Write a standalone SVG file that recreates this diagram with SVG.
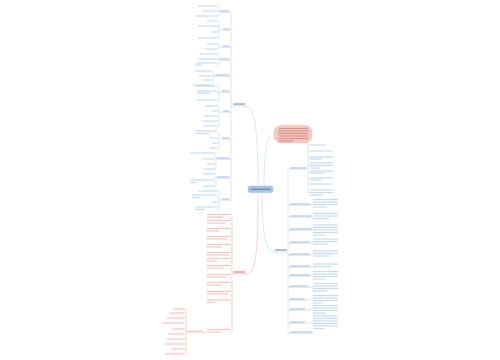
<svg xmlns="http://www.w3.org/2000/svg" width="500" height="360" viewBox="0 0 500 360">
<style>
.b{fill:#7ba7d8;opacity:.42}
.s{fill:#5f8fc4;opacity:.5}
.r{fill:#e57f7a;opacity:.45}
.k{fill:#a8423d;opacity:.4}
.d{fill:#3f5f86;opacity:.6}
.c{fill:none;stroke:#c9d5e3;stroke-width:.6}
.cr{fill:none;stroke:#f1b6b2;stroke-width:.6}
.ub{fill:none;stroke:#a9c3e0;stroke-width:.5}
.ur{fill:none;stroke:#efa5a0;stroke-width:.5}
</style>
<rect width="500" height="360" fill="#fff"/>
<g id="connectors">
<path class="c" d="M246,106 C256,106 258,140 258,186"/>
<path class="c" d="M274,134 C266,134 264,160 264,186"/>
<path class="c" d="M262,192.5 C262,232 266,252.2 274,252.2"/>
<path class="cr" d="M258,192.5 C258,250 256,274 247,274"/>
<path class="c" d="M231,12.2V200.2 M231,106H232"/>
<path class="c" d="M217,6H219 M217,11H219 M217,16H219 M219,6V16 M219,12.2H220"/>
<path class="c" d="M217,21H219 M217,26H219 M217,32H219 M217,38H219 M219,21V38 M219,30.2H223"/>
<path class="c" d="M217,44H219 M217,49H219 M219,44V49 M219,47.2H223"/>
<path class="c" d="M217,54H219 M217,59H219 M217,65H219 M219,54V65 M219,60.2H220"/>
<path class="c" d="M211,71H213 M211,76H213 M211,80H213 M211,85H213 M213,71V85 M213,76.2H215"/>
<path class="c" d="M217,86H219 M217,93H219 M217,100H219 M219,86V100 M219,92.2H222"/>
<path class="c" d="M217,106H219 M217,111H219 M217,116H219 M217,121H219 M217,126H219 M219,106V126 M219,112.2H223"/>
<path class="c" d="M217,133.5H219 M217,138H219 M217,143H219 M217,148H219 M219,133.5V148 M219,139.2H222"/>
<path class="c" d="M214,153H216 M214,159H216 M214,164H216 M214,169H216 M216,153V169 M216,159.2H217"/>
<path class="c" d="M214,174H216 M214,182.5H216 M214,186H216 M216,174V186 M216,178.2H217"/>
<path class="c" d="M217,191H219 M217,197.5H219 M217,202H219 M217,209.5H219 M219,191V209.5 M219,200.2H222"/>
<path class="c" d="M288,169.2V333.2"/>
<path class="c" d="M307,169.2H308 M308,145V192.5 M308,145H310 M308,151H310 M308,158H310 M308,165.5H310 M308,172H310 M308,179H310 M308,184H310 M308,192.5H310"/>
<path class="c" d="M311,205.2C312,205.2 312,203.2 313,203.2 M312,217.2H313 M311,243.2C312,243.2 312,241.5 313,241.5 M311,255.2C312,255.2 312,253.5 313,253.5 M311,267.2C312,267.2 312,265.2 313,265.2 M311,276.2C312,276.2 312,275.2 313,275.2 M309,287.2H313 M306,300.2C310,300.2 310,299.2 313,299.2 M306,310.2C310,310.2 310,309.2 313,309.2 M306,323.2C310,323.2 310,322.2 313,322.2"/>
<path class="cr" d="M232,218V333 M230.5,218H232 M230.5,224H232 M230.5,232H232 M230.5,240H232 M230.5,248H232 M230.5,256H232 M230.5,262H232 M230.5,269H232 M230.5,278H232 M230.5,286H232 M230.5,295H232 M230.5,303.5H232 M230.5,333H232"/>
<path class="cr" d="M203.5,332.5H206 M186,309V354 M186,332.2H187 M184,309H186 M184,313H186 M184,318H186 M184,323H186 M184,329H186 M184,334H186 M184,339H186 M184,344H186 M184,349H186 M184,354H186"/>
</g>
<g id="center">
<rect x="248" y="186" width="25" height="6.5" rx="2" fill="#aac5e3" stroke="#8fb0d6" stroke-width=".4"/>
<rect class="d" x="251" y="188.6" width="19" height="1.3"/>
</g>
<g id="note">
<rect x="274" y="125.5" width="38" height="17.5" rx="7" fill="#f6c9c5" stroke="#efb1ac" stroke-width=".4"/>
<rect class="k" x="279" y="127.9" width="29" height="1.2"/>
<rect class="k" x="278" y="130.4" width="31" height="1.2"/>
<rect class="k" x="278" y="132.9" width="30" height="1.2"/>
<rect class="k" x="279" y="135.4" width="29" height="1.2"/>
<rect class="k" x="278" y="137.9" width="30" height="1.2"/>
<rect class="k" x="279" y="140.4" width="15" height="1.2"/>
</g>
<g id="branch-left">
<rect class="d" x="233" y="103.4" width="12" height="1.3"/>
<path class="ub" d="M232,106H246"/>
</g>
<g id="left-1">
<rect class="s" x="220" y="10.4" width="9" height="1.2"/><path class="ub" d="M220,12.2H231"/>
<rect class="b" x="198" y="5.4" width="19" height="1.2"/>
<rect class="b" x="203" y="10.4" width="14" height="1.2"/>
<rect class="b" x="196" y="15.4" width="21" height="1.2"/>
</g>
<g id="left-2">
<rect class="s" x="223" y="28.4" width="6" height="1.2"/><path class="ub" d="M223,30.2H231"/>
<rect class="b" x="207" y="20.4" width="10" height="1.2"/>
<rect class="b" x="198" y="25.4" width="19" height="1.2"/>
<rect class="b" x="212" y="31.4" width="5" height="1.2"/>
<rect class="b" x="198" y="37.4" width="19" height="1.2"/>
</g>
<g id="left-3">
<rect class="s" x="223" y="45.4" width="6" height="1.2"/><path class="ub" d="M223,47.2H231"/>
<rect class="b" x="207" y="43.4" width="10" height="1.2"/>
<rect class="b" x="205" y="48.4" width="12" height="1.2"/>
</g>
<g id="left-4">
<rect class="s" x="220" y="58.4" width="9" height="1.2"/><path class="ub" d="M220,60.2H231"/>
<rect class="b" x="200" y="53.4" width="17" height="1.2"/>
<rect class="b" x="198" y="58.4" width="19" height="1.2"/>
<rect class="b" x="196" y="62.4" width="21" height="1.2"/>
<rect class="b" x="196" y="64.4" width="6" height="1.2"/>
</g>
<g id="left-5">
<rect class="s" x="215" y="74.4" width="14" height="1.2"/><path class="ub" d="M215,76.2H231"/>
<rect class="b" x="195" y="70.4" width="16" height="1.2"/>
<rect class="b" x="199" y="75.4" width="12" height="1.2"/>
<rect class="b" x="203" y="79.4" width="8" height="1.2"/>
<rect class="b" x="193" y="84.4" width="18" height="1.2"/>
</g>
<g id="left-6">
<rect class="s" x="222" y="90.4" width="7" height="1.2"/><path class="ub" d="M222,92.2H231"/>
<rect class="b" x="196" y="85.4" width="21" height="1.2"/>
<rect class="b" x="197" y="90.4" width="20" height="1.2"/>
<rect class="b" x="197" y="92.4" width="14" height="1.2"/>
<rect class="b" x="197" y="99.4" width="20" height="1.2"/>
</g>
<g id="left-7">
<rect class="s" x="223" y="110.4" width="6" height="1.2"/><path class="ub" d="M223,112.2H231"/>
<rect class="b" x="205" y="105.4" width="12" height="1.2"/>
<rect class="b" x="212" y="110.4" width="5" height="1.2"/>
<rect class="b" x="204" y="115.4" width="13" height="1.2"/>
<rect class="b" x="202" y="120.4" width="15" height="1.2"/>
<rect class="b" x="203" y="125.4" width="14" height="1.2"/>
</g>
<g id="left-8">
<rect class="s" x="222" y="137.4" width="7" height="1.2"/><path class="ub" d="M222,139.2H231"/>
<rect class="b" x="195" y="130.4" width="22" height="1.2"/>
<rect class="b" x="195" y="132.9" width="14" height="1.2"/>
<rect class="b" x="210" y="137.4" width="7" height="1.2"/>
<rect class="b" x="212" y="142.4" width="5" height="1.2"/>
<rect class="b" x="210" y="147.4" width="7" height="1.2"/>
</g>
<g id="left-9">
<rect class="s" x="217" y="157.4" width="12" height="1.2"/><path class="ub" d="M217,159.2H231"/>
<rect class="b" x="190" y="152.4" width="24" height="1.2"/>
<rect class="b" x="203" y="158.4" width="11" height="1.2"/>
<rect class="b" x="207" y="163.4" width="7" height="1.2"/>
<rect class="b" x="204" y="168.4" width="10" height="1.2"/>
</g>
<g id="left-10">
<rect class="s" x="217" y="176.4" width="12" height="1.2"/><path class="ub" d="M217,178.2H231"/>
<rect class="b" x="203" y="173.4" width="11" height="1.2"/>
<rect class="b" x="190" y="179.4" width="24" height="1.2"/>
<rect class="b" x="190" y="181.9" width="6" height="1.2"/>
<rect class="b" x="203" y="185.4" width="11" height="1.2"/>
</g>
<g id="left-11">
<rect class="s" x="222" y="198.4" width="7" height="1.2"/><path class="ub" d="M222,200.2H231"/>
<rect class="b" x="198" y="190.4" width="19" height="1.2"/>
<rect class="b" x="192" y="194.4" width="25" height="1.2"/>
<rect class="b" x="192" y="196.9" width="8" height="1.2"/>
<rect class="b" x="212" y="201.4" width="5" height="1.2"/>
<rect class="b" x="195" y="206.4" width="22" height="1.2"/>
<rect class="b" x="195" y="208.9" width="10" height="1.2"/>
</g>
<g id="branch-right">
<rect class="d" x="275" y="249.4" width="12" height="1.3"/>
<path class="ub" d="M274,252.2H288"/>
</g>
<g id="right-1">
<rect class="s" x="290" y="167.4" width="16" height="1.2"/><path class="ub" d="M288,169.2H307"/>
<rect class="b" x="310" y="144.4" width="16" height="1.2"/>
<rect class="b" x="310" y="150.4" width="23" height="1.2"/>
<rect class="b" x="310" y="156.4" width="23" height="1.2"/>
<rect class="b" x="310" y="158.4" width="12" height="1.2"/>
<rect class="b" x="310" y="162.4" width="23" height="1.2"/>
<rect class="b" x="310" y="164.9" width="23" height="1.2"/>
<rect class="b" x="310" y="167.4" width="10" height="1.2"/>
<rect class="b" x="310" y="170.4" width="23" height="1.2"/>
<rect class="b" x="310" y="172.4" width="14" height="1.2"/>
<rect class="b" x="310" y="177.4" width="23" height="1.2"/>
<rect class="b" x="310" y="179.4" width="11" height="1.2"/>
<rect class="b" x="310" y="183.4" width="22" height="1.2"/>
<rect class="b" x="310" y="189.4" width="23" height="1.2"/>
<rect class="b" x="310" y="191.9" width="23" height="1.2"/>
<rect class="b" x="310" y="194.4" width="13" height="1.2"/>
</g>
<g id="right-2">
<rect class="s" x="290" y="203.4" width="20" height="1.2"/><path class="ub" d="M288,205.2H311"/>
<rect class="b" x="313" y="198.9" width="25" height="1.2"/>
<rect class="b" x="313" y="201.4" width="25" height="1.2"/>
<rect class="b" x="313" y="203.9" width="25" height="1.2"/>
<rect class="b" x="313" y="206.4" width="14" height="1.2"/>
</g>
<g id="right-3">
<rect class="s" x="290" y="215.4" width="21" height="1.2"/><path class="ub" d="M288,217.2H312"/>
<rect class="b" x="313" y="212.9" width="25" height="1.2"/>
<rect class="b" x="313" y="215.4" width="25" height="1.2"/>
<rect class="b" x="313" y="217.9" width="16" height="1.2"/>
</g>
<g id="right-4">
<rect class="s" x="290" y="228.4" width="22" height="1.2"/><path class="ub" d="M288,230.2H313"/>
<rect class="b" x="313" y="224.4" width="25" height="1.2"/>
<rect class="b" x="313" y="226.9" width="25" height="1.2"/>
<rect class="b" x="313" y="229.4" width="25" height="1.2"/>
<rect class="b" x="313" y="231.9" width="25" height="1.2"/>
<rect class="b" x="313" y="234.4" width="12" height="1.2"/>
</g>
<g id="right-5">
<rect class="s" x="290" y="241.4" width="20" height="1.2"/><path class="ub" d="M288,243.2H311"/>
<rect class="b" x="313" y="238.4" width="25" height="1.2"/>
<rect class="b" x="313" y="240.9" width="25" height="1.2"/>
<rect class="b" x="313" y="243.4" width="15" height="1.2"/>
</g>
<g id="right-6">
<rect class="s" x="290" y="253.4" width="20" height="1.2"/><path class="ub" d="M288,255.2H311"/>
<rect class="b" x="313" y="250.4" width="25" height="1.2"/>
<rect class="b" x="313" y="252.9" width="25" height="1.2"/>
<rect class="b" x="313" y="255.4" width="17" height="1.2"/>
</g>
<g id="right-7">
<rect class="s" x="290" y="265.4" width="20" height="1.2"/><path class="ub" d="M288,267.2H311"/>
<rect class="b" x="313" y="263.4" width="25" height="1.2"/>
<rect class="b" x="313" y="265.9" width="18" height="1.2"/>
</g>
<g id="right-8">
<rect class="s" x="290" y="274.4" width="20" height="1.2"/><path class="ub" d="M288,276.2H311"/>
<rect class="b" x="313" y="270.9" width="25" height="1.2"/>
<rect class="b" x="313" y="273.4" width="25" height="1.2"/>
<rect class="b" x="313" y="275.9" width="25" height="1.2"/>
<rect class="b" x="313" y="278.4" width="12" height="1.2"/>
</g>
<g id="right-9">
<rect class="s" x="290" y="285.4" width="18" height="1.2"/><path class="ub" d="M288,287.2H309"/>
<rect class="b" x="313" y="282.9" width="25" height="1.2"/>
<rect class="b" x="313" y="285.4" width="25" height="1.2"/>
<rect class="b" x="313" y="287.9" width="25" height="1.2"/>
<rect class="b" x="313" y="290.4" width="14" height="1.2"/>
</g>
<g id="right-10">
<rect class="s" x="290" y="298.4" width="15" height="1.2"/><path class="ub" d="M288,300.2H306"/>
<rect class="b" x="313" y="294.9" width="25" height="1.2"/>
<rect class="b" x="313" y="297.4" width="25" height="1.2"/>
<rect class="b" x="313" y="299.9" width="25" height="1.2"/>
<rect class="b" x="313" y="302.4" width="10" height="1.2"/>
</g>
<g id="right-11">
<rect class="s" x="290" y="308.4" width="15" height="1.2"/><path class="ub" d="M288,310.2H306"/>
<rect class="b" x="313" y="304.9" width="25" height="1.2"/>
<rect class="b" x="313" y="307.4" width="25" height="1.2"/>
<rect class="b" x="313" y="309.9" width="25" height="1.2"/>
<rect class="b" x="313" y="312.4" width="13" height="1.2"/>
</g>
<g id="right-12">
<rect class="s" x="290" y="321.4" width="15" height="1.2"/><path class="ub" d="M288,323.2H306"/>
<rect class="b" x="313" y="315.4" width="25" height="1.2"/>
<rect class="b" x="313" y="317.9" width="25" height="1.2"/>
<rect class="b" x="313" y="320.4" width="25" height="1.2"/>
<rect class="b" x="313" y="322.9" width="25" height="1.2"/>
<rect class="b" x="313" y="325.4" width="25" height="1.2"/>
<rect class="b" x="313" y="327.9" width="11" height="1.2"/>
</g>
<g id="right-13">
<rect class="s" x="290" y="331.4" width="22" height="1.2"/><path class="ub" d="M288,333.2H313"/>
</g>
<g id="branch-red">
<rect x="233" y="270.5" width="13" height="3" fill="#fbe3e1"/>
<rect class="k" x="234" y="271.4" width="11" height="1.3"/>
<path class="ur" d="M232,274H247"/>
</g>
<g id="red-leaves">
<rect class="r" x="207" y="213.9" width="24" height="1.2"/><rect class="r" x="207" y="216.4" width="16" height="1.2"/>
<rect class="r" x="207" y="219.9" width="24" height="1.2"/><rect class="r" x="207" y="222.4" width="18" height="1.2"/>
<rect class="r" x="207" y="227.9" width="24" height="1.2"/><rect class="r" x="207" y="230.4" width="12" height="1.2"/>
<rect class="r" x="207" y="235.9" width="24" height="1.2"/><rect class="r" x="207" y="238.4" width="20" height="1.2"/>
<rect class="r" x="207" y="243.9" width="24" height="1.2"/><rect class="r" x="207" y="246.4" width="14" height="1.2"/>
<rect class="r" x="207" y="251.9" width="24" height="1.2"/><rect class="r" x="207" y="254.4" width="22" height="1.2"/>
<rect class="r" x="207" y="257.9" width="24" height="1.2"/><rect class="r" x="207" y="260.4" width="10" height="1.2"/>
<rect class="r" x="207" y="264.9" width="24" height="1.2"/><rect class="r" x="207" y="267.4" width="17" height="1.2"/>
<rect class="r" x="207" y="273.9" width="24" height="1.2"/><rect class="r" x="207" y="276.4" width="19" height="1.2"/>
<rect class="r" x="207" y="281.9" width="24" height="1.2"/><rect class="r" x="207" y="284.4" width="15" height="1.2"/>
<rect class="r" x="207" y="290.9" width="24" height="1.2"/><rect class="r" x="207" y="293.4" width="21" height="1.2"/>
<rect class="r" x="207" y="299.4" width="24" height="1.2"/><rect class="r" x="207" y="301.9" width="8" height="1.2"/>
<rect class="r" x="207" y="328.9" width="23" height="1.2"/><rect class="r" x="207" y="331.4" width="14" height="1.2"/>
</g>
<g id="red-sub">
<rect class="r" x="187" y="330.4" width="16" height="1.2"/><path class="ur" d="M186,332.2H204"/>
</g>
<g id="red-list">
<rect class="r" x="173" y="308.4" width="11" height="1.2"/>
<rect class="r" x="169" y="312.4" width="15" height="1.2"/>
<rect class="r" x="167" y="317.4" width="17" height="1.2"/>
<rect class="r" x="162" y="322.4" width="22" height="1.2"/>
<rect class="r" x="172" y="328.4" width="12" height="1.2"/>
<rect class="r" x="168" y="333.4" width="16" height="1.2"/>
<rect class="r" x="167" y="338.4" width="17" height="1.2"/>
<rect class="r" x="165" y="343.4" width="19" height="1.2"/>
<rect class="r" x="172" y="348.4" width="12" height="1.2"/>
<rect class="r" x="165" y="353.4" width="19" height="1.2"/>
</g>
</svg>
